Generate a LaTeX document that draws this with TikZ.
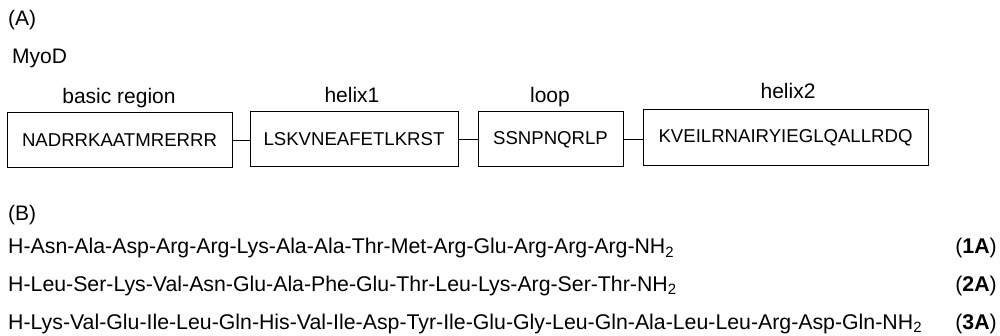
\documentclass[tikz,border=0pt]{standalone}
\usepackage{fontspec}
\setmainfont{Liberation Sans}
\begin{document}
\begin{tikzpicture}[x=1pt,y=-1pt,
  lbl/.style={inner sep=0pt,font=\fontsize{21}{25}\selectfont},
  seqbox/.style={draw,line width=1pt,inner sep=0pt,font=\fontsize{18.6}{22}\selectfont},
  pep/.style={inner sep=0pt,anchor=base west,font=\fontsize{21.3}{25}\selectfont},
  tag/.style={inner sep=0pt,anchor=base east,font=\fontsize{21.3}{25}\selectfont},
  link/.style={line width=1pt}]
\useasboundingbox (0,0) rectangle (1000,336);
\node[lbl,anchor=base west] (pa) at (8,26) {(A)};
\node[lbl,anchor=base west] (myod) at (12,64) {MyoD};
\node[seqbox,minimum width=225pt,minimum height=55pt] (b1) at (119.5,140.5) {NADRRKAATMRERRR};
\node[seqbox,minimum width=208pt,minimum height=55pt] (b2) at (354,139.5) {LSKVNEAFETLKRST};
\node[seqbox,minimum width=145pt,minimum height=55pt] (b3) at (550.5,139.5) {SSNPNQRLP};
\node[seqbox,minimum width=285pt,minimum height=56pt] (b4) at (785.5,138) {KVEILRNAIRYIEGLQALLRDQ};
\node[lbl,anchor=base] (l1) at (119,104) {basic region};
\node[lbl,anchor=base] (l2) at (352,103) {helix1};
\node[lbl,anchor=base] (l3) at (550,103) {loop};
\node[lbl,anchor=base] (l4) at (788,99) {helix2};
\draw[link] (b1.east) -- (b1.east -| b2.west);
\draw[link] (b2.east) -- (b2.east -| b3.west);
\draw[link] (b3.east) -- (b3.east -| b4.west);
\node[lbl,anchor=base west] (pb) at (8,221) {(B)};
\node[pep] (s1) at (8,254) {H-Asn-Ala-Asp-Arg-Arg-Lys-Ala-Ala-Thr-Met-Arg-Glu-Arg-Arg-Arg-NH\textsubscript{2}};
\node[pep] (s2) at (8,291) {H-Leu-Ser-Lys-Val-Asn-Glu-Ala-Phe-Glu-Thr-Leu-Lys-Arg-Ser-Thr-NH\textsubscript{2}};
\node[pep] (s3) at (8,329) {H-Lys-Val-Glu-Ile-Leu-Gln-His-Val-Ile-Asp-Tyr-Ile-Glu-Gly-Leu-Gln-Ala-Leu-Leu-Arg-Asp-Gln-NH\textsubscript{2}};
\node[tag] (t1) at (997,254) {(\textbf{1A})};
\node[tag] (t2) at (997,291) {(\textbf{2A})};
\node[tag] (t3) at (997,329) {(\textbf{3A})};
\end{tikzpicture}
\end{document}
